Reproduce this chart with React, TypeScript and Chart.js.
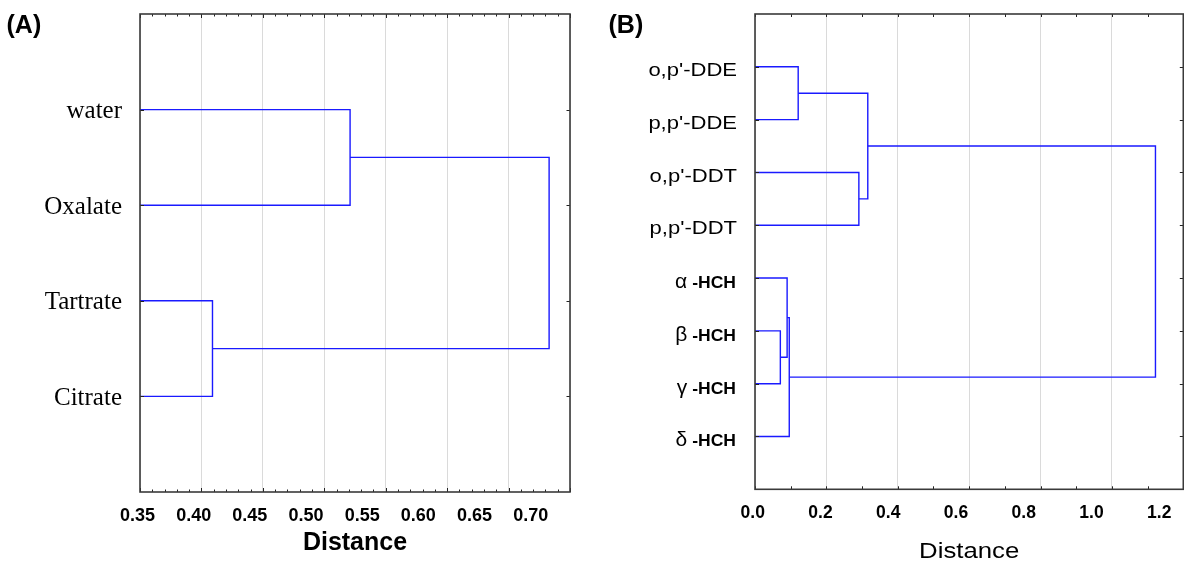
import React, { useEffect, useRef } from "react";
import { Chart, registerables } from "chart.js";

Chart.register(...registerables);

const SANS = '"Liberation Sans", Arial, sans-serif';
const SERIF = '"Liberation Serif", "Times New Roman", serif';

// ---------------- Panel A data ----------------
const leavesA = ["water", "Oxalate", "Tartrate", "Citrate"];
// merge k joins child1[k] and child2[k] (ids: leaves 0..n-1, clusters n+k)
const mergeChild1A = [0, 2, 4];
const mergeChild2A = [1, 3, 5];
const mergeHeightA = [0.521, 0.409, 0.683];
const xTicksA = [0.35, 0.4, 0.45, 0.5, 0.55, 0.6, 0.65, 0.7];
const xTickLabelsA = ["0.35", "0.40", "0.45", "0.50", "0.55", "0.60", "0.65", "0.70"];

// ---------------- Panel B data ----------------
const leavesB = [
  "o,p'-DDE",
  "p,p'-DDE",
  "o,p'-DDT",
  "p,p'-DDT",
  "α -HCH",
  "β -HCH",
  "γ -HCH",
  "δ -HCH",
];
const mergeChild1B = [0, 2, 8, 5, 4, 12, 10];
const mergeChild2B = [1, 3, 9, 6, 11, 7, 13];
const mergeHeightB = [0.121, 0.291, 0.316, 0.071, 0.09, 0.096, 1.122];
const xTicksB = [0, 0.2, 0.4, 0.6, 0.8, 1.0, 1.2];
const xTickLabelsB = ["0.0", "0.2", "0.4", "0.6", "0.8", "1.0", "1.2"];

type Panel = {
  tag: string;
  leaves: string[];
  c1: number[];
  c2: number[];
  h: number[];
  xMin: number;
  xMax: number;
  xTicks: number[];
  xTickLabels: string[];
  minorStep: number;
  labelMin: number;
  labelMax: number;
  padding: { left: number; right: number; top: number; bottom: number };
  kind: "A" | "B";
};

const panelA: Panel = {
  tag: "(A)",
  leaves: leavesA,
  c1: mergeChild1A,
  c2: mergeChild2A,
  h: mergeHeightA,
  xMin: 0.35,
  xMax: 0.7,
  xTicks: xTicksA,
  xTickLabels: xTickLabelsA,
  minorStep: 0.01,
  labelMin: 0.3522,
  labelMax: 0.735,
  padding: { left: 140, right: 22, top: 14, bottom: 72 },
  kind: "A",
};

const panelB: Panel = {
  tag: "(B)",
  leaves: leavesB,
  c1: mergeChild1B,
  c2: mergeChild2B,
  h: mergeHeightB,
  xMin: 0,
  xMax: 1.2,
  xTicks: xTicksB,
  xTickLabels: xTickLabelsB,
  minorStep: 0.1,
  labelMin: 0.0068,
  labelMax: 1.2711,
  padding: { left: 163, right: 0.7, top: 14, bottom: 74.7 },
  kind: "B",
};

function buildDatasets(p: Panel) {
  const pos: number[] = [];
  const ht: number[] = [];
  p.leaves.forEach((_, i) => {
    pos.push(i + 1);
    ht.push(p.xMin);
  });
  const sets: any[] = [];
  for (let k = 0; k < p.h.length; k++) {
    const a = p.c1[k];
    const b = p.c2[k];
    sets.push({
      data: [
        { x: ht[a], y: pos[a] },
        { x: p.h[k], y: pos[a] },
        { x: p.h[k], y: pos[b] },
        { x: ht[b], y: pos[b] },
      ],
      showLine: true,
      borderColor: "#1a1aff",
      borderWidth: 1.4,
      pointRadius: 0,
      tension: 0,
      fill: false,
      clip: false,
    });
    pos.push((pos[a] + pos[b]) / 2);
    ht.push(p.h[k]);
  }
  return sets;
}

function makePlugin(p: Panel) {
  return {
    id: "dendroFrame" + p.kind,
    afterDraw(chart: any) {
      const { ctx, chartArea: a } = chart;
      const x = chart.scales.x;
      const y = chart.scales.y;
      const xl = chart.scales.xl;
      ctx.save();

      // tick marks (inside)
      ctx.strokeStyle = "#222";
      ctx.lineWidth = 1;
      const nMinor = Math.round((p.xMax - p.xMin) / p.minorStep);
      ctx.beginPath();
      for (let i = 0; i <= nMinor; i++) {
        const v = p.xMin + i * p.minorStep;
        const px = Math.round(x.getPixelForValue(v)) + 0.5;
        const major = p.xTicks.some((t) => Math.abs(t - v) < 1e-9);
        const len = p.kind === "A" ? (major ? 4 : 2.5) : 3;
        ctx.moveTo(px, a.bottom);
        ctx.lineTo(px, a.bottom - len);
        ctx.moveTo(px, a.top);
        ctx.lineTo(px, a.top + len);
      }
      for (let i = 1; i <= p.leaves.length; i++) {
        const py = Math.round(y.getPixelForValue(i)) + 0.5;
        ctx.moveTo(a.left, py);
        ctx.lineTo(a.left + 4, py);
        ctx.moveTo(a.right, py);
        ctx.lineTo(a.right - 3.5, py);
      }
      ctx.stroke();

      // frame
      ctx.strokeStyle = "#3a3a3a";
      ctx.lineWidth = 1.6;
      ctx.strokeRect(a.left, a.top, a.right - a.left, a.bottom - a.top);

      ctx.fillStyle = "#000";

      // y labels
      p.leaves.forEach((name, i) => {
        const py = y.getPixelForValue(i + 1);
        if (p.kind === "A") {
          ctx.font = `25px ${SERIF}`;
          ctx.textAlign = "right";
          ctx.textBaseline = "alphabetic";
          ctx.fillText(name, a.left - 18, py + 8.3);
        } else if (name.includes(" -")) {
          const [greek, rest] = name.split(" ");
          const rightX = a.left - 19;
          const base = py + 10;
          ctx.font = `bold 17px ${SANS}`;
          const w = ctx.measureText(rest).width * 1.03;
          ctx.save();
          ctx.translate(rightX, base);
          ctx.scale(1.03, 1);
          ctx.textAlign = "right";
          ctx.textBaseline = "alphabetic";
          ctx.fillText(rest, 0, 0);
          ctx.restore();
          ctx.font = `21px ${SANS}`;
          ctx.textAlign = "right";
          ctx.textBaseline = "alphabetic";
          ctx.fillText(greek, rightX - w - 5, base);
        } else {
          ctx.save();
          ctx.font = `18.5px ${SANS}`;
          ctx.translate(a.left - 18, py + 9.2);
          ctx.scale(1.19, 1);
          ctx.textAlign = "right";
          ctx.textBaseline = "alphabetic";
          ctx.fillText(name, 0, 0);
          ctx.restore();
        }
      });

      // x tick labels
      ctx.font = p.kind === "A" ? `bold 18px ${SANS}` : `bold 17.5px ${SANS}`;
      ctx.textAlign = "center";
      ctx.textBaseline = "alphabetic";
      p.xTicks.forEach((v, i) => {
        ctx.fillText(p.xTickLabels[i], xl.getPixelForValue(v), a.bottom + (p.kind === "A" ? 28.7 : 29));
      });

      // axis title
      const cx = (a.left + a.right) / 2;
      if (p.kind === "A") {
        ctx.font = `bold 25px ${SANS}`;
        ctx.fillText("Distance", cx, a.bottom + 58);
      } else {
        ctx.save();
        ctx.font = `22px ${SANS}`;
        ctx.translate(cx, a.bottom + 69);
        ctx.scale(1.17, 1);
        ctx.fillText("Distance", 0, 0);
        ctx.restore();
      }

      // panel tag
      ctx.font = `bold 25px ${SANS}`;
      ctx.textAlign = "left";
      ctx.fillText(p.tag, p.kind === "A" ? 6.5 : 16.5, 32.5);

      ctx.restore();
    },
  };
}

function PanelChart({ panel, left }: { panel: Panel; left: number }) {
  const ref = useRef<HTMLCanvasElement>(null);
  useEffect(() => {
    const canvas = ref.current;
    if (!canvas) return;
    const p = panel;
    const chart = new Chart(canvas, {
      type: "scatter",
      data: { datasets: buildDatasets(p) },
      options: {
        responsive: false,
        animation: false,
        devicePixelRatio: 1,
        layout: { padding: p.padding },
        plugins: { legend: { display: false }, tooltip: { enabled: false } },
        events: [],
        scales: {
          x: {
            type: "linear",
            position: "bottom",
            min: p.xMin,
            max: p.xMax,
            afterBuildTicks: (s: any) => {
              s.ticks = p.xTicks.map((v) => ({ value: v }));
            },
            ticks: { display: false },
            grid: { color: "#dadada", lineWidth: 1, drawTicks: false },
            border: { display: false },
          },
          xl: {
            type: "linear",
            position: "bottom",
            display: false,
            min: p.labelMin,
            max: p.labelMax,
          },
          y: {
            type: "linear",
            display: false,
            reverse: true,
            min: 0,
            max: p.leaves.length + 1,
          },
        },
      } as any,
      plugins: [makePlugin(p)],
    });
    return () => chart.destroy();
  }, [panel]);
  return (
    <canvas
      ref={ref}
      width={592}
      height={564}
      style={{ position: "absolute", left, top: 0, width: 592, height: 564 }}
    />
  );
}

export default function App() {
  return (
    <div
      style={{
        position: "fixed",
        left: 0,
        top: 0,
        width: 1184,
        height: 564,
        background: "#fff",
        overflow: "hidden",
      }}
    >
      <PanelChart panel={panelA} left={0} />
      <PanelChart panel={panelB} left={592} />
    </div>
  );
}
